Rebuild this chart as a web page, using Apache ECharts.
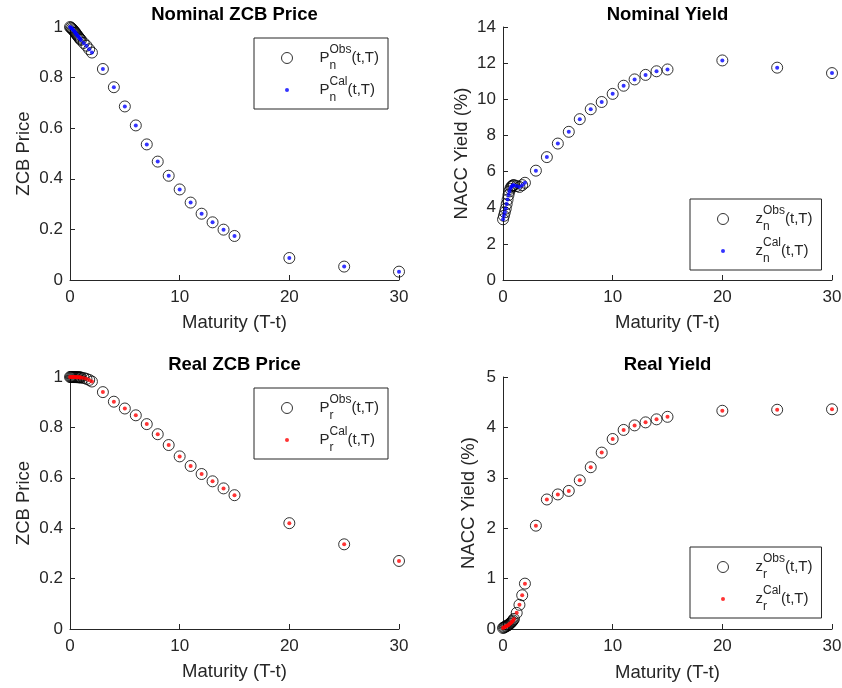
<!DOCTYPE html>
<html>
<head>
<meta charset="utf-8">
<title>ZCB prices and yields</title>
<script src="https://cdn.jsdelivr.net/npm/echarts@6/dist/echarts.min.js"></script>
<style>
  html, body { margin: 0; padding: 0; background: #fff; }
  #chart { width: 842px; height: 688px; }
</style>
</head>
<body>
<div id="chart"></div>
<script>
// Maturities (years) of the curve points
const maturity = [0.0027, 0.0833, 0.1667, 0.25, 0.3333, 0.4167, 0.5, 0.5833, 0.6667, 0.75, 0.8333, 0.9167, 1,
  1.25, 1.5, 1.75, 2, 3, 4, 5, 6, 7, 8, 9, 10, 11, 12, 13, 14, 15, 20, 25, 30];

// Nominal zero-coupon bond prices
const nominalPriceObs = [0.9999, 0.997, 0.9938, 0.990, 0.986, 0.9816, 0.9768, 0.9718, 0.967, 0.9621, 0.9576, 0.9531, 0.9489,
  0.937, 0.926, 0.912, 0.899, 0.834, 0.762, 0.686, 0.611, 0.536, 0.468, 0.412, 0.358, 0.306, 0.262, 0.228, 0.199, 0.174, 0.087, 0.053, 0.033];
const nominalPriceCal = [0.9999, 0.997, 0.9938, 0.990, 0.986, 0.9816, 0.9768, 0.9718, 0.967, 0.9621, 0.9576, 0.9531, 0.9489,
  0.937, 0.926, 0.912, 0.899, 0.834, 0.762, 0.686, 0.611, 0.536, 0.468, 0.412, 0.358, 0.306, 0.262, 0.228, 0.199, 0.174, 0.087, 0.053, 0.033];

// Nominal NACC yields (%)
const nominalYieldObs = [3.36, 3.55, 3.75, 3.95, 4.2, 4.45, 4.7, 4.9, 5.05, 5.15, 5.2, 5.24, 5.25,
  5.2, 5.15, 5.25, 5.38, 6.05, 6.8, 7.55, 8.2, 8.9, 9.45, 9.85, 10.3, 10.75, 11.1, 11.35, 11.55, 11.65, 12.15, 11.75, 11.45];
const nominalYieldCal = [3.36, 3.55, 3.75, 3.95, 4.2, 4.45, 4.7, 4.9, 5.05, 5.15, 5.2, 5.24, 5.25,
  5.2, 5.15, 5.25, 5.38, 6.05, 6.8, 7.55, 8.2, 8.9, 9.45, 9.85, 10.3, 10.75, 11.1, 11.35, 11.55, 11.65, 12.15, 11.75, 11.45];

// Real zero-coupon bond prices
const realPriceObs = [1.0, 1.0, 0.9999, 0.9999, 0.9998, 0.9997, 0.9996, 0.9994, 0.9993, 0.999, 0.9988, 0.9984, 0.998,
  0.996, 0.9928, 0.9883, 0.982, 0.940, 0.902, 0.875, 0.848, 0.813, 0.773, 0.730, 0.685, 0.647, 0.615, 0.586, 0.558, 0.531, 0.420, 0.336, 0.270];
const realPriceCal = [1.0, 1.0, 0.9999, 0.9999, 0.9998, 0.9997, 0.9996, 0.9994, 0.9993, 0.999, 0.9988, 0.9984, 0.998,
  0.996, 0.9928, 0.9883, 0.982, 0.940, 0.902, 0.875, 0.848, 0.813, 0.773, 0.730, 0.685, 0.647, 0.615, 0.586, 0.558, 0.531, 0.420, 0.336, 0.270];

// Real NACC yields (%)
const realYieldObs = [0.02, 0.03, 0.04, 0.05, 0.06, 0.07, 0.08, 0.10, 0.11, 0.13, 0.15, 0.17, 0.20,
  0.32, 0.48, 0.67, 0.90, 2.05, 2.57, 2.67, 2.74, 2.95, 3.21, 3.50, 3.77, 3.95, 4.04, 4.10, 4.16, 4.21, 4.33, 4.35, 4.36];
const realYieldCal = [0.02, 0.03, 0.04, 0.05, 0.06, 0.07, 0.08, 0.10, 0.11, 0.13, 0.15, 0.17, 0.20,
  0.32, 0.48, 0.67, 0.90, 2.05, 2.57, 2.67, 2.74, 2.95, 3.21, 3.50, 3.77, 3.95, 4.04, 4.10, 4.16, 4.21, 4.33, 4.35, 4.36];

// Panel titles, axis names and y-axis ranges
const panelTitles = ['Nominal ZCB Price', 'Nominal Yield', 'Real ZCB Price', 'Real Yield'];
const yNames = ['ZCB Price', 'NACC Yield (%)', 'ZCB Price', 'NACC Yield (%)'];
const xName = 'Maturity (T-t)';
const yMax = [1, 14, 1, 5];
const yStep = [0.2, 2, 0.2, 1];
const xTicks = { min: 0, max: 30, step: 10 };

const FONT = '"Liberation Sans", Arial, Helvetica, sans-serif';
const INK = '#262626';

const panels = [
  { grid: { left: 70, top: 27, width: 329, height: 253 }, yGap: 37, xGap: 33, legend: { left: 254, top: 38 } },
  { grid: { left: 503, top: 27, width: 329, height: 253 }, yGap: 32, xGap: 33, legend: { left: 690, top: 199 } },
  { grid: { left: 70, top: 377, width: 329, height: 252 }, yGap: 37, xGap: 33, legend: { left: 254, top: 388 } },
  { grid: { left: 503, top: 377, width: 329, height: 252 }, yGap: 25, xGap: 34, legend: { left: 690, top: 547 } }
];

const seriesSpec = [
  { obs: nominalPriceObs, cal: nominalPriceCal, dot: '#0000ff', sym: 'P', idx: 'n' },
  { obs: nominalYieldObs, cal: nominalYieldCal, dot: '#0000ff', sym: 'z', idx: 'n' },
  { obs: realPriceObs, cal: realPriceCal, dot: '#ff0000', sym: 'P', idx: 'r' },
  { obs: realYieldObs, cal: realYieldCal, dot: '#ff0000', sym: 'z', idx: 'r' }
];

const pairs = vals => maturity.map((t, i) => [t, vals[i]]);

// Small filled dot used as a legend icon (the outer move-tos keep the box square)
const DOT_ICON = 'path://M0,0M22,22M7,11a4,4 0 1,0 8,0a4,4 0 1,0 -8,0z';

const legendLabels = {};
const grids = [], xAxes = [], yAxes = [], series = [], legends = [], titles = [];

panels.forEach((p, i) => {
  const s = seriesSpec[i];
  const g = p.grid;
  grids.push(Object.assign({ outerBoundsMode: 'none', containLabel: false }, g));
  titles.push({
    text: panelTitles[i],
    left: g.left + g.width / 2,
    top: g.top - 22,
    textAlign: 'center',
    padding: 0,
    textStyle: { fontFamily: FONT, fontSize: 18.5, fontWeight: 'bold', color: '#000' }
  });
  xAxes.push({
    gridIndex: i, type: 'value', min: xTicks.min, max: xTicks.max, interval: xTicks.step,
    name: xName, nameLocation: 'middle', nameGap: p.xGap,
    nameTextStyle: { fontFamily: FONT, fontSize: 18.5, color: INK },
    axisLine: { show: true, onZero: false, lineStyle: { color: INK, width: 1 } },
    axisTick: { show: true, inside: true, length: 5, lineStyle: { color: INK } },
    axisLabel: { fontFamily: FONT, fontSize: 17, color: INK, margin: 9 },
    splitLine: { show: false }
  });
  yAxes.push({
    gridIndex: i, type: 'value', min: 0, max: yMax[i], interval: yStep[i],
    name: yNames[i], nameLocation: 'middle', nameGap: p.yGap,
    nameTextStyle: { fontFamily: FONT, fontSize: 18.5, color: INK },
    axisLine: { show: true, onZero: false, lineStyle: { color: INK, width: 1 } },
    axisTick: { show: true, inside: true, length: 5, lineStyle: { color: INK } },
    axisLabel: { fontFamily: FONT, fontSize: 17, color: INK, margin: 7 },
    splitLine: { show: false }
  });
  const obsName = s.sym + '_' + s.idx + '^Obs';
  const calName = s.sym + '_' + s.idx + '^Cal';
  legendLabels[obsName] = '{m|' + s.sym + '}{sub|' + s.idx + '}{sup|Obs}{m|(t,T)}';
  legendLabels[calName] = '{m|' + s.sym + '}{sub|' + s.idx + '}{sup|Cal}{m|(t,T)}';
  series.push({
    type: 'scatter', name: obsName, xAxisIndex: i, yAxisIndex: i,
    data: pairs(s.obs), symbol: 'circle', symbolSize: 11,
    itemStyle: { color: 'rgba(0,0,0,0)', borderColor: '#000', borderWidth: 1 },
    emphasis: { disabled: true }, silent: true, clip: false, z: 2
  });
  series.push({
    type: 'scatter', name: calName, xAxisIndex: i, yAxisIndex: i,
    data: pairs(s.cal), symbol: 'circle', symbolSize: 4,
    itemStyle: { color: s.dot, borderWidth: 0 },
    emphasis: { disabled: true }, silent: true, clip: false, z: 3
  });
  legends.push({
    orient: 'vertical', left: p.legend.left, top: p.legend.top,
    padding: [6, 9, 5, 27], itemGap: 4, itemWidth: 11, itemHeight: 11,
    backgroundColor: '#fff', borderColor: INK, borderWidth: 1, borderRadius: 0,
    selectedMode: false, symbolKeepAspect: true,
    data: [
      { name: obsName, icon: 'circle', itemStyle: { color: 'rgba(0,0,0,0)', borderColor: '#000', borderWidth: 1 } },
      { name: calName, icon: DOT_ICON, itemStyle: { color: s.dot, borderWidth: 0 } }
    ],
    formatter: name => legendLabels[name],
    textStyle: {
      fontFamily: FONT, fontSize: 15, color: INK, padding: [0, 0, 0, 22],
      rich: {
        m: { fontFamily: FONT, fontSize: 15, color: INK, lineHeight: 28, verticalAlign: 'middle' },
        sub: { fontFamily: FONT, fontSize: 12, color: INK, lineHeight: 12, width: 0, verticalAlign: 'bottom' },
        sup: { fontFamily: FONT, fontSize: 12, color: INK, lineHeight: 14, verticalAlign: 'top' }
      }
    }
  });
});

const chart = echarts.init(document.getElementById('chart'), null, { renderer: 'canvas' });
chart.setOption({
  animation: false,
  backgroundColor: '#fff',
  title: titles,
  grid: grids,
  xAxis: xAxes,
  yAxis: yAxes,
  legend: legends,
  series: series
});
</script>
</body>
</html>
